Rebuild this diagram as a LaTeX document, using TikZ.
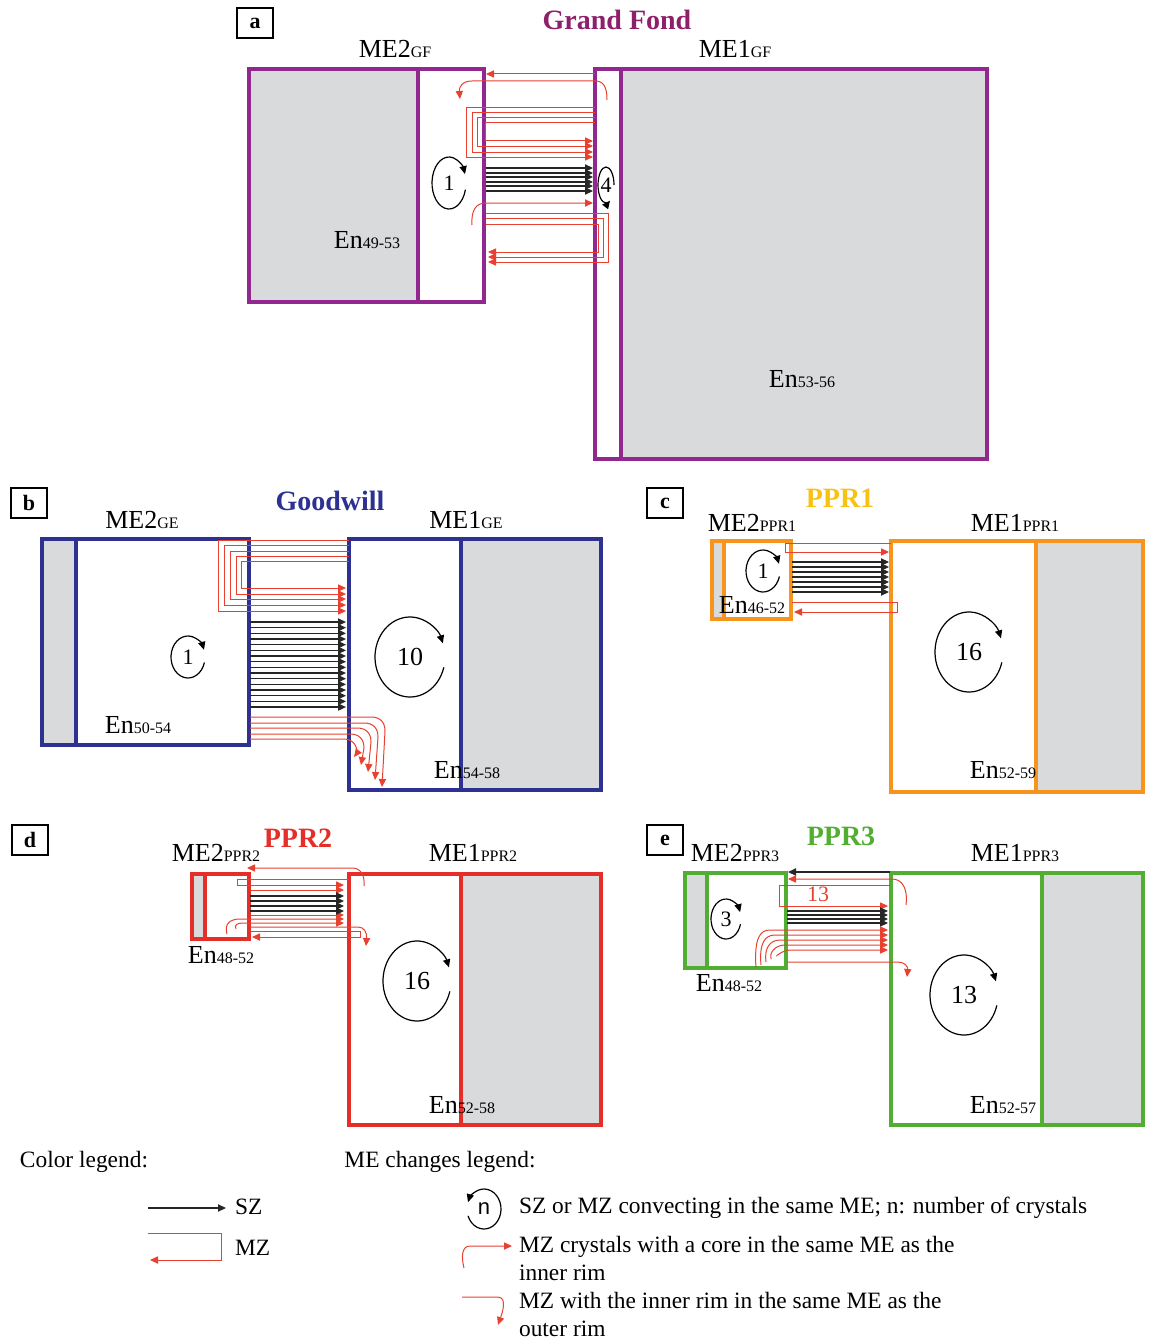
\documentclass[tikz,border=0pt]{standalone}
\usepackage{fontspec}
\setmainfont{Liberation Serif}
\setsansfont{Liberation Sans}
\usetikzlibrary{arrows.meta}

\definecolor{gfpurple}{HTML}{92278F}
\definecolor{gftitle}{HTML}{8E1F6B}
\definecolor{genavy}{HTML}{2E3192}
\definecolor{pprorange}{HTML}{F7941D}
\definecolor{pprgold}{HTML}{F9C113}
\definecolor{pprred}{HTML}{E52E27}
\definecolor{pprgreen}{HTML}{52AE32}
\definecolor{mzred}{HTML}{E8412F}
\definecolor{megray}{HTML}{D9DADB}

\newcommand{\melab}[2]{#1{\fontsize{8}{9}\selectfont #2}}

\tikzset{
  mebox/.style={line width=1.7pt, draw=#1},
  sz/.style={->, line width=0.6pt, draw=black!85},
  mz/.style={->, line width=0.5pt, draw=mzred},
  conv/.style={->, line width=0.6pt},
  panlab/.style={draw, line width=0.9pt, minimum width=18pt, minimum height=15pt, inner sep=0pt, font=\fontsize{11}{12}\selectfont\bfseries},
  ptitle/.style={font=\fontsize{14}{16}\selectfont\bfseries},
  melabel/.style={font=\fontsize{13}{15}\selectfont},
  cnum/.style={font=\fontsize{13}{15}\selectfont},
  csmall/.style={font=\fontsize{11}{13}\selectfont},
  legtext/.style={font=\fontsize{11.7}{14}\selectfont, anchor=west, align=left},
}

\begin{document}
\begin{tikzpicture}[x=0.5pt, y=-0.5pt, >={Triangle[length=4pt,width=3.6pt]}]
        \useasboundingbox (0,0) rectangle (1154,1338);

        % a: Grand Fond
        \node[panlab] (laba) at (255,23) {a};
        \node[ptitle, text=gftitle] (titlea) at (617,20) {Grand Fond};
        \node[melabel] (me2a) at (395,49) {\melab{ME2}{GF}};
        \node[melabel] (me1a) at (735,49) {\melab{ME1}{GF}};
        \fill[megray] (249,69) rectangle (418,302);
        \draw[mebox=gfpurple] (249,69) rectangle (484,302) (418,69) -- (418,302);
        \fill[megray] (621,69) rectangle (987,459);
        \draw[mebox=gfpurple] (595,69) rectangle (987,459) (621,69) -- (621,459);
        \node[melabel] (en2a) at (367,240) {\melab{En}{49-53}};
        \node[melabel] (en1a) at (802,379) {\melab{En}{53-56}};

        \draw[mz] (595,74) -- (486,74);
        \draw[mz] (607,100) .. controls (607,86) and (603,81) .. (595,81) -- (472,81) .. controls (462,81) and (459,87) .. (460,99);
        \foreach \t/\l/\b in {108/466/157, 113/472/152, 118/477/146, 123/485/141}
          \draw[mz] (595,\t) -- (\l,\t) -- (\l,\b) -- (593,\b);
        \foreach \y in {168,173,177,182,186,191}
          \draw[sz] (486,\y) -- (593,\y);
        \draw[mz] (472,225) .. controls (471,210) and (476,203) .. (486,203) -- (593,203);
        \foreach \t/\r/\b in {213/608/262, 218/603/257, 224/598/252}
          \draw[mz] (486,\t) -- (\r,\t) -- (\r,\b) -- (488,\b);

        \node[csmall] (ca1) at (449,183) {1};
        \draw[conv] ([shift={(15:17 and 26)}]ca1.center) arc[start angle=15, end angle=340, x radius=17, y radius=26];
        \node[csmall] (ca4) at (606,185) {4};
        \draw[conv] ([shift={(0:8 and 18)}]ca4.center) arc[start angle=0, end angle=-300, x radius=8, y radius=18];

        % b: Goodwill
        \node[panlab] (labb) at (29,503) {b};
        \node[ptitle, text=genavy] (titleb) at (330,501) {Goodwill};
        \node[melabel] (me2b) at (142,520) {\melab{ME2}{GE}};
        \node[melabel] (me1b) at (466,520) {\melab{ME1}{GE}};
        \fill[megray] (42,539) rectangle (76,745);
        \draw[mebox=genavy] (42,539) rectangle (249,745) (76,539) -- (76,745);
        \fill[megray] (461,539) rectangle (601,790);
        \draw[mebox=genavy] (349,539) rectangle (601,790) (461,539) -- (461,790);
        \node[melabel] (en2b) at (138,725) {\melab{En}{50-54}};
        \node[melabel] (en1b) at (467,770) {\melab{En}{54-58}};

        \foreach \t/\l/\b in {540/218/611, 545/224/605, 551/230/599, 556/236/594, 561/241/588}
          \draw[mz] (349,\t) -- (\l,\t) -- (\l,\b) -- (346,\b);
        \foreach \i in {0,...,15}
          \draw[sz] (250,{622+5.67*\i}) -- (346,{622+5.67*\i});
        \foreach \y/\x/\e in {717/385/787, 723/378/780, 728/371/772, 734/364/765, 739/357/757}
          \draw[mz] (250,\y) -- ({\x-14},\y) .. controls ({\x-5},\y) and (\x,{\y+5}) .. (\x,{\y+14}) -- ({\x-3},\e);

        \node[csmall] (cb1) at (188,657) {1};
        \draw[conv] ([shift={(15:17 and 21)}]cb1.center) arc[start angle=15, end angle=340, x radius=17, y radius=21];
        \node[cnum] (cb10) at (410,657) {10};
        \draw[conv] ([shift={(15:35 and 40)}]cb10.center) arc[start angle=15, end angle=340, x radius=35, y radius=40];

        % c: PPR1
        \node[panlab] (labc) at (665,503) {c};
        \node[ptitle, text=pprgold] (titlec) at (840,498) {PPR1};
        \node[melabel] (me2c) at (752,523) {\melab{ME2}{PPR1}};
        \node[melabel] (me1c) at (1015,523) {\melab{ME1}{PPR1}};
        \fill[megray] (712,541) rectangle (724,619);
        \draw[mebox=pprorange] (712,541) rectangle (791,619) (724,541) -- (724,619);
        \fill[megray] (1036,541) rectangle (1143,792);
        \draw[mebox=pprorange] (891,541) rectangle (1143,792) (1036,541) -- (1036,792);
        \node[melabel] (en2c) at (752,605) {\melab{En}{46-52}};
        \node[melabel] (en1c) at (1003,770) {\melab{En}{52-59}};

        \draw[mz] (891,543) -- (785,543) -- (785,552) -- (889,552);
        \foreach \y in {562,567,572,577,582,587,592}
          \draw[sz] (792,\y) -- (889,\y);
        \draw[mz] (792,602) -- (897,602) -- (897,612) -- (794,612);

        \node[csmall] (cc1) at (763,571) {1};
        \draw[conv] ([shift={(15:17 and 21)}]cc1.center) arc[start angle=15, end angle=340, x radius=17, y radius=21];
        \node[cnum] (cc16) at (969,652) {16};
        \draw[conv] ([shift={(15:34 and 40)}]cc16.center) arc[start angle=15, end angle=340, x radius=34, y radius=40];

        % d: PPR2
        \node[panlab] (labd) at (30,840) {d};
        \node[ptitle, text=pprred] (titled) at (298,838) {PPR2};
        \node[melabel] (me2d) at (216,853) {\melab{ME2}{PPR2}};
        \node[melabel] (me1d) at (473,853) {\melab{ME1}{PPR2}};
        \fill[megray] (192,874) rectangle (205,939);
        \draw[mebox=pprred] (192,874) rectangle (249,939) (205,874) -- (205,939);
        \fill[megray] (461,874) rectangle (601,1125);
        \draw[mebox=pprred] (349,874) rectangle (601,1125) (461,874) -- (461,1125);
        \node[melabel] (en2d) at (221,955) {\melab{En}{48-52}};
        \node[melabel] (en1d) at (462,1105) {\melab{En}{52-58}};

        \draw[mz] (364,886) .. controls (365,874) and (360,868) .. (352,868) -- (247,868);
        \draw[mz] (349,879) -- (237,879) -- (237,885) -- (344,885);
        \foreach \y in {890,915}
          \draw[mz] (250,\y) -- (344,\y);
        \foreach \y in {896,901,906,911}
          \draw[sz] (250,\y) -- (344,\y);
        \draw[mz] (227,934) .. controls (224,924) and (230,919) .. (240,919) -- (344,919);
        \draw[mz] (236,929) .. controls (234,925) and (237,923) .. (243,923) -- (344,923);
        \draw[mz] (250,927) -- (358,927) .. controls (364,927) and (367,932) .. (366,946);
        \draw[mz] (250,931) -- (360,931) -- (360,937) -- (252,937);

        \node[cnum] (cd16) at (417,981) {16};
        \draw[conv] ([shift={(15:34 and 40)}]cd16.center) arc[start angle=15, end angle=340, x radius=34, y radius=40];

        % e: PPR3
        \node[panlab] (labe) at (665,840) {e};
        \node[ptitle, text=pprgreen] (titlee) at (841,836) {PPR3};
        \node[melabel] (me2e) at (735,853) {\melab{ME2}{PPR3}};
        \node[melabel] (me1e) at (1015,853) {\melab{ME1}{PPR3}};
        \fill[megray] (685,873) rectangle (707,968);
        \draw[mebox=pprgreen] (685,873) rectangle (786,968) (707,873) -- (707,968);
        \fill[megray] (1042,873) rectangle (1143,1125);
        \draw[mebox=pprgreen] (891,873) rectangle (1143,1125) (1042,873) -- (1042,1125);
        \node[melabel] (en2e) at (729,983) {\melab{En}{48-52}};
        \node[melabel] (en1e) at (1003,1105) {\melab{En}{52-57}};

        \draw[sz] (890,872) -- (788,872);
        \draw[mz] (906,905) .. controls (908,888) and (902,879) .. (892,879) -- (788,879);
        \draw[mz] (891,885) -- (779,885) -- (779,906) -- (888,906);
        \node[csmall, text=mzred] (ce13r) at (818,894) {13};
        \foreach \y in {911,915,919,923}
          \draw[sz] (787,\y) -- (888,\y);
        \foreach \sx/\sy/\y in {756/968/930, 761/965/935, 766/962/940, 771/959/945, 777/955/950}
          \draw[mz] (\sx,\sy) .. controls ({\sx-2},{\y+8}) and ({\sx+4},\y) .. ({\sx+14},\y) -- (888,\y);
        \draw[mz] (787,962) -- (898,962) .. controls (905,962) and (908,967) .. (907,977);

        \node[csmall] (ce3) at (726,919) {3};
        \draw[conv] ([shift={(15:15 and 20)}]ce3.center) arc[start angle=15, end angle=340, x radius=15, y radius=20];
        \node[cnum] (ce13) at (964,995) {13};
        \draw[conv] ([shift={(15:34 and 40)}]ce13.center) arc[start angle=15, end angle=340, x radius=34, y radius=40];

        % Legends
        \node[legtext, anchor=center] (colleg) at (84,1162) {Color legend:};
        \node[legtext, anchor=center] (meleg) at (440,1162) {ME changes legend:};
        \coordinate (szs) at (148,1208);
        \coordinate (sze) at (226,1208);
        \draw[sz] (szs) -- (sze);
        \node[legtext] (szlab) at (228,1207) {SZ};
        \draw[mz] (148,1233) -- (221,1233) -- (221,1260) -- (150,1260);
        \node[legtext] (mzlab) at (228,1248) {MZ};

        \node[csmall, font=\fontsize{11}{13}\selectfont\sffamily] (nleg) at (484,1209) {n};
        \draw[conv] ([shift={(-200:17 and 20)}]nleg.center) arc[start angle=-200, end angle=-520, x radius=17, y radius=20];
        \node[legtext] (convtxt) at (512,1208) {SZ or MZ convecting in the same ME; n: number of crystals};
        \draw[mz] (464,1268) .. controls (461,1256) and (462,1246) .. (470,1246) -- (512,1246);
        \node[legtext] (coretxt) at (512,1258) {MZ crystals with a core in the same ME as the\\inner rim};
        \draw[mz] (462,1297) -- (497,1297) .. controls (505,1297) and (505,1305) .. (498,1325);
        \node[legtext] (rimtxt) at (512,1314) {MZ with the inner rim in the same ME as the\\outer rim};
    \end{tikzpicture}
\end{document}
